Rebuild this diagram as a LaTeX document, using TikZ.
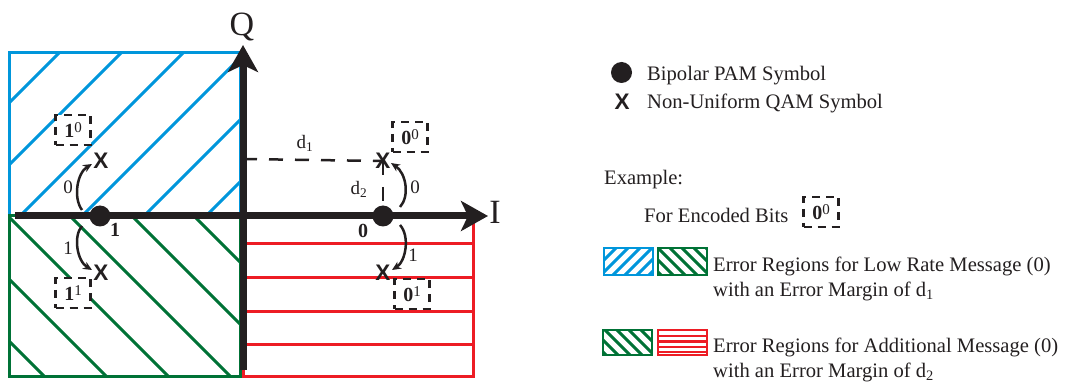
\documentclass[tikz,border=0pt]{standalone}
\usepackage{fontspec}
\setmainfont{Liberation Serif}
\newfontfamily\qamfont{Liberation Sans}
\usetikzlibrary{arrows.meta}

\definecolor{hblue}{RGB}{0,150,219}
\definecolor{hgreen}{RGB}{0,114,54}
\definecolor{hred}{RGB}{237,28,36}
\definecolor{ink}{RGB}{35,31,32}

% bold bit with the secondary bit raised beside it
\newcommand{\encbits}[2]{\textbf{#1}\raisebox{5.5pt}{\fontsize{15}{15}\selectfont #2}}

\tikzset{
  axisline/.style={line width=7pt, draw=ink, -{Stealth[length=27pt,width=30pt,inset=7pt]}},
  region/.style={line width=3pt},
  hatchline/.style={line width=3pt},
  pam/.style={circle, fill=ink, minimum size=21pt, inner sep=0pt},
  qam/.style={inner sep=0pt, font=\qamfont\fontsize{22.5}{22.5}\selectfont\bfseries, text=ink},
  bitbox/.style={draw=ink, fill=white, line width=2.5pt, dash pattern=on 8pt off 6pt,
    minimum width=35pt, minimum height=30pt, inner sep=0pt,
    font=\fontsize{20}{20}\selectfont, text=ink},
  hop/.style={line width=2.5pt, draw=ink, -{Stealth[length=9pt,width=8pt]}},
  guide/.style={line width=2.5pt, draw=ink, dash pattern=on 14pt off 12pt},
  lbl/.style={inner sep=0pt, font=\fontsize{19}{19}\selectfont, text=ink},
  bitlbl/.style={inner sep=0pt, font=\fontsize{20}{20}\selectfont\bfseries, text=ink},
  axlbl/.style={inner sep=0pt, anchor=base, font=\fontsize{34}{34}\selectfont, text=ink},
  legtext/.style={anchor=base west, inner sep=0pt, font=\fontsize{20.6}{25}\selectfont, text=ink},
  legbox/.style={line width=2.5pt},
}

\begin{document}
\begin{tikzpicture}[x=1pt,y=-1pt]
\useasboundingbox (0,0) rectangle (1066,382);

% ---- hatched decision regions ----
\begin{scope}
  \clip (9,53) rectangle (240,216);
  \foreach \c in {112,174,...,422}
    \draw[hatchline, hblue] (\c-240,240) -- (\c-30,30);
\end{scope}
\draw[region, hblue] (9,53) rectangle (240,216);

\begin{scope}
  \clip (9,216) rectangle (240,376);
  \foreach \c in {22,84,...,332}
    \draw[hatchline, hgreen] (0,\c) -- (400,400+\c);
\end{scope}
\draw[region, hgreen] (9,216) rectangle (240,376);

\foreach \y in {244,278,311,344}
  \draw[hatchline, hred] (243,\y) -- (473,\y);
\draw[region, hred] (243,216) rectangle (473,376);

% ---- axes ----
\coordinate (qfoot) at (243,370);
\coordinate (qtip) at (243,45);
\coordinate (ifoot) at (15,216);
\coordinate (itip) at (488,216);
\draw[axisline] (qfoot) -- (qtip);
\draw[axisline] (ifoot) -- (itip);
\node[axlbl] (qlab) at (242,36) {Q};
\node[axlbl] (ilab) at (495,224) {I};

% ---- constellation points ----
\node[pam] (dotL) at (100,216) {};
\node[pam] (dotR) at (383,216) {};
\node[qam] (xTL) at (101,161) {X};
\node[qam] (xBL) at (101,273) {X};
\node[qam] (xTR) at (383,161) {X};
\node[qam] (xBR) at (383,273) {X};

% distances d1 and d2
\coordinate (dstart) at (243,159);
\draw[guide] (dstart) -- (xTR.center);
\draw[guide] (xTR.center) -- (dotR.center);
\node[lbl] (d1lab) at (305,143) {d\textsubscript{1}};
\node[lbl] (d2lab) at (359,189) {d\textsubscript{2}};

% ---- bit transitions ----
\draw[hop] ([shift={(-18,-6)}]dotL.center) .. controls (73,198) and (77,173) .. ([shift={(-9,3)}]xTL.center);
\draw[hop] ([shift={(-18,10)}]dotL.center) .. controls (73,236) and (77,261) .. ([shift={(-9,-3)}]xBL.center);
\draw[hop] ([shift={(17,-9)}]dotR.center) .. controls (410,196) and (406,173) .. ([shift={(8,2)}]xTR.center);
\draw[hop] ([shift={(17,9)}]dotR.center) .. controls (410,236) and (406,261) .. ([shift={(9,-3)}]xBR.center);

\node[lbl] (hTL) at (68,187) {0};
\node[lbl] (hBL) at (68,248) {1};
\node[lbl] (hTR) at (415,187) {0};
\node[lbl] (hBR) at (413,255) {1};

\node[bitlbl] (bL) at (115,230) {1};
\node[bitlbl] (bR) at (363,231) {0};

\node[bitbox] (bxTL) at (73,130) {\encbits{1}{0}};
\node[bitbox] (bxBL) at (73,293) {\encbits{1}{1}};
\node[bitbox] (bxTR) at (410,137) {\encbits{0}{0}};
\node[bitbox] (bxBR) at (412,294) {\encbits{0}{1}};

% ---- legend ----
\node[pam] (legdot) at (621.5,72.5) {};
\node[qam] (legx) at (622,102) {X};
\node[legtext] (t1) at (647,81) {Bipolar PAM Symbol};
\node[legtext] (t2) at (647,109) {Non-Uniform QAM Symbol};
\node[legtext] (t3) at (604,185) {Example:};
\node[legtext] (t4) at (644,223) {For Encoded Bits};
\node[bitbox] (legbits) at (821,212) {\encbits{0}{0}};

% low-rate message regions
\begin{scope}
  \clip (604,248) rectangle (653,275);
  \foreach \c in {840,852,...,940}
    \draw[line width=3pt, hblue] (\c-290,290) -- (\c-230,230);
\end{scope}
\draw[legbox, hblue] (604,248) rectangle (653,275);
\begin{scope}
  \clip (658,248) rectangle (707,275);
  \foreach \c in {-470,-458,...,-380}
    \draw[line width=3pt, hgreen] (640,640+\c) -- (720,720+\c);
\end{scope}
\draw[legbox, hgreen] (658,248) rectangle (707,275);
\node[legtext] (t5) at (713,272) {Error Regions for Low Rate Message (0)};
\node[legtext] (t6) at (713,296) {with an Error Margin of d\textsubscript{1}};

% additional message regions
\begin{scope}
  \clip (603,330) rectangle (652,355);
  \foreach \c in {-335,-323,...,-240}
    \draw[line width=3pt, hgreen] (590,590+\c) -- (670,670+\c);
\end{scope}
\draw[legbox, hgreen] (603,330) rectangle (652,355);
\foreach \y in {336,341.5,347,352}
  \draw[line width=2.5pt, hred] (658,\y) -- (707,\y);
\draw[legbox, hred] (658,330) rectangle (707,355);
\node[legtext] (t7) at (713,352) {Error Regions for Additional Message (0)};
\node[legtext] (t8) at (713,377) {with an Error Margin of d\textsubscript{2}};
\end{tikzpicture}
\end{document}
